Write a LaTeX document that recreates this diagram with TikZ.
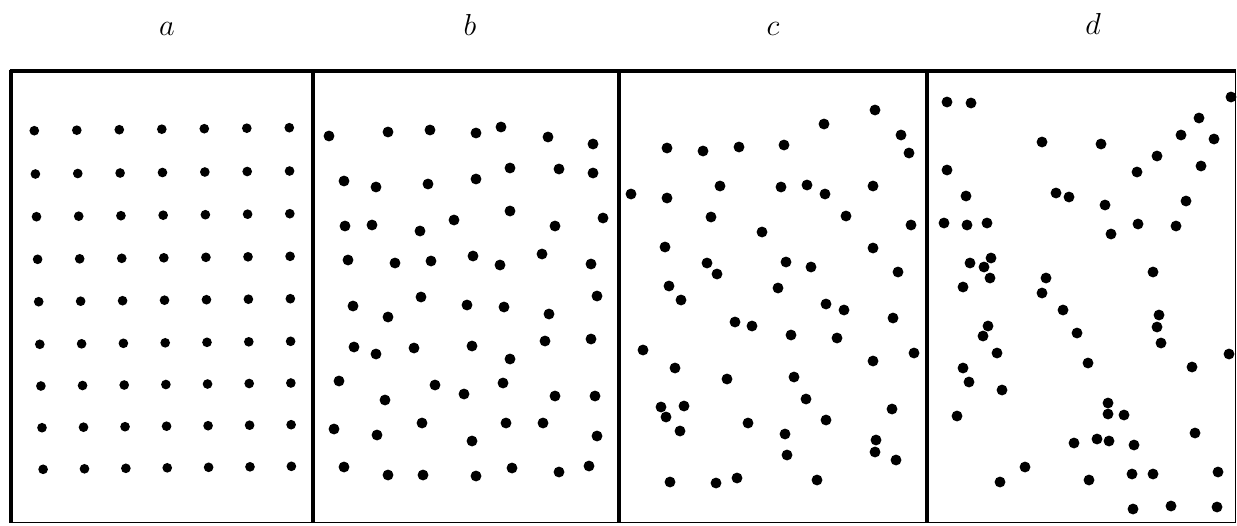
\documentclass[tikz,border=0pt]{standalone}
\usepackage{tikz}

\tikzset{
    border/.style={line width=2.7pt},
    divider/.style={line width=2.3pt},
    edge/.style={line width=1.1pt},
    gridpt/.style={fill=black},
    randpt/.style={fill=black},
    panellabel/.style={anchor=base, inner sep=0pt, font=\fontsize{17.5}{20}\selectfont}
}

\begin{document}
\begin{tikzpicture}[x=0.02cm, y=-0.02cm]
    \useasboundingbox (0,0) rectangle (1237,525);

    % Labels
    \node[panellabel] (la) at (167,35) {$a$};
    \node[panellabel] (lb) at (470,35) {$b$};
    \node[panellabel] (lc) at (773,35) {$c$};
    \node[panellabel] (ld) at (1093,34) {$d$};

    % Frame
    \draw[border] (9.5,71) -- (1236,71);
    \draw[border] (11,69.5) -- (11,523);
    \draw[divider] (313,71) -- (313,523);
    \draw[divider] (619,71) -- (619,523);
    \draw[divider] (927,71) -- (927,523);
    \draw[edge] (11,522.5) -- (1235.5,522.5);
    \draw[edge] (1235.5,71) -- (1235.5,523);

    % Panel a: regular lattice
    \foreach \r/\y in {0/130.7,1/174,2/216.7,3/259.3,4/301.7,5/344.3,6/386,7/427.7,8/469.3}
        \foreach \c in {0,...,6}
            \fill[gridpt] ({34.3+42.5*\c+1.1*\r-0.14*\r*\c}, {\y-0.5*\c}) circle (2.75pt);

    % Panel b
    \foreach \px/\py in {329/136,388/132,430/130,476/133,501/127,548/137,593/144,
        344/181,376/187,428/184,476/179,510/168,559/169,593/173,
        345/226,372/225,420/231,454/220,510/211,555/226,603/218,
        348/260,395/263,431/261,473/256,500/265,542/254,591/264,
        421/297,597/296,353/306,388/317,467/305,504/307,549/314,
        354/347,376/354,414/348,472/346,510/359,545/341,591/339,
        339/381,385/400,435/385,464/394,503/383,555/396,595/396,
        334/429,377/435,422/423,472/441,506/423,543/423,597/436,
        344/467,388/475,423/475,476/476,512/468,559/472,589/466}
        \fill[randpt] (\px,\py) circle (3.1pt);

    % Panel c
    \foreach \px/\py in {875/110,824/124,901/135,909/153,667/148,703/151,739/147,784/145,
        631/194,667/198,720/186,781/187,807/185,825/194,873/186,
        711/217,846/216,762/232,911/225,665/247,873/248,
        707/263,717/274,786/262,811/267,898/272,669/286,778/288,
        681/300,826/304,844/310,893/318,735/322,752/326,791/335,837/338,
        643/350,914/353,873/361,675/368,727/379,794/377,806/399,892/409,
        661/407,666/417,684/406,680/431,748/423,785/434,826/420,
        876/440,875/452,896/460,787/455,670/482,716/483,737/478,817/480}
        \fill[randpt] (\px,\py) circle (3.1pt);

    % Panel d
    \foreach \px/\py in {947/102,971/103,1231/97,1199/118,1181/135,1214/139,1042/142,1101/144,
        1157/156,947/170,1137/172,1201/166,1056/193,1069/197,966/196,1105/205,
        1186/201,944/223,967/225,987/223,1138/224,1176/226,1111/234,
        970/263,991/258,984/267,990/278,1046/278,1153/272,963/287,1042/293,
        1063/310,1159/315,1157/327,1161/343,988/326,983/336,997/353,1077/333,
        1229/354,1088/363,1192/367,963/368,969/382,1002/390,957/416,
        1108/403,1108/414,1124/415,1195/433,1074/443,1097/439,1109/441,1134/445,
        1025/467,1000/482,1089/480,1132/474,1153/474,1218/472,
        1133/509,1171/506,1217/507}
        \fill[randpt] (\px,\py) circle (3.1pt);
\end{tikzpicture}
\end{document}
